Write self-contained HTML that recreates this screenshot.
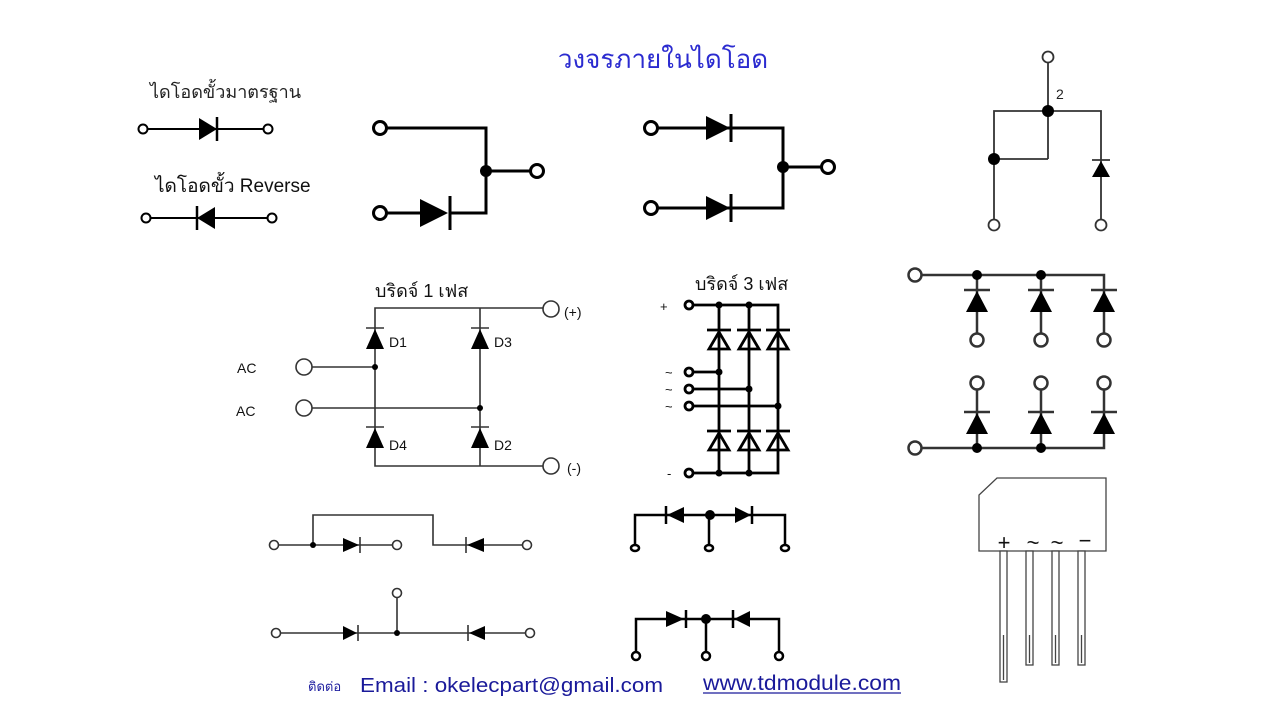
<!DOCTYPE html>
<html><head><meta charset="utf-8"><style>
html,body{margin:0;padding:0;background:#fff;width:1280px;height:720px;overflow:hidden}
svg{display:block}
text{font-family:"Liberation Sans","DejaVu Sans",sans-serif}
</style></head><body>
<svg width="1280" height="720" viewBox="0 0 1280 720" xmlns="http://www.w3.org/2000/svg">
<rect width="1280" height="720" fill="#fff"/>
<text x="663" y="68" font-size="26" fill="#2b2bd0" text-anchor="middle">วงจรภายในไดโอด</text>

<!-- standard diode -->
<text x="150" y="98" font-size="18" fill="#222">ไดโอดขั้วมาตรฐาน</text>
<g stroke="#000" stroke-width="2" fill="none">
<line x1="147" y1="129" x2="264" y2="129"/><circle cx="143" cy="129" r="4.5" fill="#fff"/><circle cx="268" cy="129" r="4.5" fill="#fff"/>
<line x1="217" y1="117" x2="217" y2="141" stroke-width="2.5"/>
</g>
<polygon points="199,118 199,140 217,129" fill="#000"/>
<text x="155" y="192" font-size="19" fill="#111">ไดโอดขั้ว Reverse</text>
<g stroke="#000" stroke-width="2" fill="none">
<line x1="150" y1="218" x2="268" y2="218"/><circle cx="146" cy="218" r="4.5" fill="#fff"/><circle cx="272" cy="218" r="4.5" fill="#fff"/>
<line x1="197" y1="206" x2="197" y2="230" stroke-width="2.5"/>
</g>
<polygon points="215,207 215,229 197,218" fill="#000"/>

<!-- diagram 2 -->
<g stroke="#000" stroke-width="3" fill="none">
<polyline points="387,128 486,128 486,213 450,213"/>
<line x1="387" y1="213" x2="420" y2="213"/>
<line x1="486" y1="171" x2="530" y2="171"/>
<line x1="450" y1="196" x2="450" y2="230"/>
<circle cx="380" cy="128" r="6.5" fill="#fff"/><circle cx="380" cy="213" r="6.5" fill="#fff"/><circle cx="537" cy="171" r="6.5" fill="#fff"/>
</g>
<polygon points="420,199 420,227 448,213" fill="#000"/><circle cx="486" cy="171" r="6" fill="#000"/>

<!-- diagram 3 -->
<g stroke="#000" stroke-width="3" fill="none">
<polyline points="658,128 783,128 783,208 658,208"/>
<line x1="783" y1="167" x2="821" y2="167"/>
<line x1="731" y1="114" x2="731" y2="142"/><line x1="731" y1="194" x2="731" y2="222"/>
<circle cx="651" cy="128" r="6.5" fill="#fff"/><circle cx="651" cy="208" r="6.5" fill="#fff"/><circle cx="828" cy="167" r="6.5" fill="#fff"/>
</g>
<polygon points="706,116 706,140 730,128" fill="#000"/><polygon points="706,196 706,220 730,208" fill="#000"/><circle cx="783" cy="167" r="6" fill="#000"/>

<!-- top right -->
<g stroke="#333" stroke-width="1.8" fill="none">
<line x1="1048" y1="63" x2="1048" y2="159"/>
<polyline points="994,219 994,111 1101,111 1101,219"/>
<polyline points="994,159 1048,159"/>
<line x1="1092" y1="160" x2="1110" y2="160"/>
<circle cx="1048" cy="57" r="5.5" fill="#fff"/><circle cx="994" cy="225" r="5.5" fill="#fff"/><circle cx="1101" cy="225" r="5.5" fill="#fff"/>
</g>
<polygon points="1101,161 1092,177 1110,177" fill="#000"/>
<circle cx="1048" cy="111" r="6" fill="#000"/><circle cx="994" cy="159" r="6" fill="#000"/>
<text x="1056" y="99" font-size="14" fill="#222">2</text>

<!-- 3-diode arrays -->
<g stroke="#333" stroke-width="2.5" fill="none">
<polyline points="922,275 1104,275 1104,333"/>
<line x1="977" y1="275" x2="977" y2="333"/><line x1="1041" y1="275" x2="1041" y2="333"/>
<line x1="964" y1="290" x2="990" y2="290"/><line x1="1028" y1="290" x2="1054" y2="290"/><line x1="1091" y1="290" x2="1117" y2="290"/>
<circle cx="915" cy="275" r="6.5" fill="#fff"/><circle cx="977" cy="340" r="6.5" fill="#fff"/><circle cx="1041" cy="340" r="6.5" fill="#fff"/><circle cx="1104" cy="340" r="6.5" fill="#fff"/>
<polyline points="922,448 1104,448 1104,390"/>
<line x1="977" y1="448" x2="977" y2="390"/><line x1="1041" y1="448" x2="1041" y2="390"/>
<line x1="964" y1="412" x2="990" y2="412"/><line x1="1028" y1="412" x2="1054" y2="412"/><line x1="1091" y1="412" x2="1117" y2="412"/>
<circle cx="915" cy="448" r="6.5" fill="#fff"/><circle cx="977" cy="383" r="6.5" fill="#fff"/><circle cx="1041" cy="383" r="6.5" fill="#fff"/><circle cx="1104" cy="383" r="6.5" fill="#fff"/>
</g>
<g fill="#000">
<polygon points="977,291 966,312 988,312"/><polygon points="1041,291 1030,312 1052,312"/><polygon points="1104,291 1093,312 1115,312"/>
<polygon points="977,413 966,434 988,434"/><polygon points="1041,413 1030,434 1052,434"/><polygon points="1104,413 1093,434 1115,434"/>
<circle cx="977" cy="275" r="5"/><circle cx="1041" cy="275" r="5"/><circle cx="977" cy="448" r="5"/><circle cx="1041" cy="448" r="5"/>
</g>

<!-- bridge package -->
<g stroke="#444" stroke-width="1.3" fill="#fff">
<polygon points="997,478 1106,478 1106,551 979,551 979,495"/>
<rect x="1000" y="551" width="7" height="131"/><rect x="1026" y="551" width="7" height="114"/><rect x="1052" y="551" width="7" height="114"/><rect x="1078" y="551" width="7" height="114"/>
<line x1="1003.5" y1="635" x2="1003.5" y2="680"/><line x1="1029.5" y1="635" x2="1029.5" y2="663"/><line x1="1055.5" y1="635" x2="1055.5" y2="663"/><line x1="1081.5" y1="635" x2="1081.5" y2="663"/>
</g>
<text x="1004" y="550" font-size="22" fill="#111" text-anchor="middle">+</text>
<text x="1033" y="550" font-size="22" fill="#111" text-anchor="middle">~</text>
<text x="1057" y="550" font-size="22" fill="#111" text-anchor="middle">~</text>
<text x="1085" y="548" font-size="22" fill="#111" text-anchor="middle">−</text>

<!-- 1-phase bridge -->
<text x="375" y="297" font-size="18" fill="#111">บริดจ์ 1 เฟส</text>
<g stroke="#333" stroke-width="1.6" fill="none">
<polyline points="543,308 375,308 375,466 543,466"/>
<line x1="480" y1="308" x2="480" y2="466"/>
<line x1="312" y1="367" x2="375" y2="367"/><line x1="312" y1="408" x2="480" y2="408"/>
<line x1="366" y1="328" x2="384" y2="328"/><line x1="471" y1="328" x2="489" y2="328"/>
<line x1="366" y1="427" x2="384" y2="427"/><line x1="471" y1="427" x2="489" y2="427"/>
<circle cx="551" cy="309" r="8" fill="#fff"/><circle cx="551" cy="466" r="8" fill="#fff"/>
<circle cx="304" cy="367" r="8" fill="#fff"/><circle cx="304" cy="408" r="8" fill="#fff"/>
</g>
<g fill="#000">
<polygon points="375,329 366,349 384,349"/><polygon points="480,329 471,349 489,349"/>
<polygon points="375,428 366,448 384,448"/><polygon points="480,428 471,448 489,448"/>
<circle cx="375" cy="367" r="3"/><circle cx="480" cy="408" r="3"/>
</g>
<g font-size="14" fill="#111">
<text x="389" y="347">D1</text><text x="494" y="347">D3</text><text x="389" y="450">D4</text><text x="494" y="450">D2</text>
<text x="237" y="373">AC</text><text x="236" y="416">AC</text><text x="564" y="317">(+)</text><text x="567" y="473">(-)</text>
</g>

<!-- 3-phase bridge -->
<text x="695" y="290" font-size="18" fill="#111">บริดจ์ 3 เฟส</text>
<g stroke="#000" stroke-width="2.8" fill="none">
<polyline points="693,305 778,305 778,473 693,473"/>
<line x1="719" y1="305" x2="719" y2="473"/><line x1="749" y1="305" x2="749" y2="473"/>
<line x1="693" y1="372" x2="719" y2="372"/><line x1="693" y1="389" x2="749" y2="389"/><line x1="693" y1="406" x2="778" y2="406"/>
<line x1="707" y1="330" x2="731" y2="330"/><line x1="737" y1="330" x2="761" y2="330"/><line x1="766" y1="330" x2="790" y2="330"/>
<line x1="707" y1="431" x2="731" y2="431"/><line x1="737" y1="431" x2="761" y2="431"/><line x1="766" y1="431" x2="790" y2="431"/>
<polygon points="719,332 709,349 729,349"/><polygon points="749,332 739,349 759,349"/><polygon points="778,332 768,349 788,349"/>
<polygon points="719,433 709,450 729,450"/><polygon points="749,433 739,450 759,450"/><polygon points="778,433 768,450 788,450"/>
<circle cx="689" cy="305" r="4" fill="#fff"/><circle cx="689" cy="372" r="4" fill="#fff"/><circle cx="689" cy="389" r="4" fill="#fff"/><circle cx="689" cy="406" r="4" fill="#fff"/><circle cx="689" cy="473" r="4" fill="#fff"/>
</g>
<g fill="#000">
<circle cx="719" cy="305" r="3.5"/><circle cx="749" cy="305" r="3.5"/><circle cx="719" cy="372" r="3.5"/><circle cx="749" cy="389" r="3.5"/><circle cx="778" cy="406" r="3.5"/><circle cx="719" cy="473" r="3.5"/><circle cx="749" cy="473" r="3.5"/>
</g>
<g font-size="13" fill="#111"><text x="660" y="311">+</text><text x="665" y="377">~</text><text x="665" y="394">~</text><text x="665" y="411">~</text><text x="667" y="478">-</text></g>

<!-- bottom left 1 -->
<g stroke="#333" stroke-width="1.6" fill="none">
<line x1="279" y1="545" x2="392" y2="545"/>
<polyline points="313,545 313,515 433,515 433,545 522,545"/>
<line x1="360" y1="537" x2="360" y2="553"/><line x1="466" y1="537" x2="466" y2="553"/>
<circle cx="274" cy="545" r="4.5" fill="#fff"/><circle cx="397" cy="545" r="4.5" fill="#fff"/><circle cx="527" cy="545" r="4.5" fill="#fff"/>
</g>
<polygon points="343,538 343,552 359,545" fill="#000"/><polygon points="484,538 484,552 467,545" fill="#000"/><circle cx="313" cy="545" r="3" fill="#000"/>
<!-- bottom left 2 -->
<g stroke="#333" stroke-width="1.6" fill="none">
<line x1="281" y1="633" x2="525" y2="633"/><line x1="397" y1="633" x2="397" y2="598"/>
<line x1="358" y1="625" x2="358" y2="641"/><line x1="468" y1="625" x2="468" y2="641"/>
<circle cx="276" cy="633" r="4.5" fill="#fff"/><circle cx="397" cy="593" r="4.5" fill="#fff"/><circle cx="530" cy="633" r="4.5" fill="#fff"/>
</g>
<polygon points="343,626 343,640 357,633" fill="#000"/><polygon points="485,626 485,640 469,633" fill="#000"/><circle cx="397" cy="633" r="3" fill="#000"/>

<!-- bottom middle 1 -->
<g stroke="#000" stroke-width="2.5" fill="none">
<polyline points="635,545 635,515 785,515 785,545"/><line x1="709" y1="515" x2="709" y2="545"/>
<line x1="666" y1="506" x2="666" y2="524"/><line x1="752" y1="506" x2="752" y2="524"/>
<ellipse cx="635" cy="548" rx="4" ry="3" fill="#fff"/><ellipse cx="709" cy="548" rx="4" ry="3" fill="#fff"/><ellipse cx="785" cy="548" rx="4" ry="3" fill="#fff"/>
</g>
<polygon points="684,507 684,523 667,515" fill="#000"/><polygon points="735,507 735,523 751,515" fill="#000"/><circle cx="710" cy="515" r="5" fill="#000"/>
<!-- bottom middle 2 -->
<g stroke="#000" stroke-width="2.5" fill="none">
<polyline points="636,652 636,619 779,619 779,652"/><line x1="706" y1="619" x2="706" y2="652"/>
<line x1="686" y1="610" x2="686" y2="628"/><line x1="733" y1="610" x2="733" y2="628"/>
<circle cx="636" cy="656" r="4" fill="#fff"/><circle cx="706" cy="656" r="4" fill="#fff"/><circle cx="779" cy="656" r="4" fill="#fff"/>
</g>
<polygon points="666,611 666,627 684,619" fill="#000"/><polygon points="750,611 750,627 734,619" fill="#000"/><circle cx="706" cy="619" r="5" fill="#000"/>

<!-- footer -->
<text x="308" y="691" font-size="13" fill="#2020a0">ติดต่อ</text>
<text x="360" y="692" font-size="20" fill="#1a1a9a" textLength="303" lengthAdjust="spacingAndGlyphs">Email :  okelecpart@gmail.com</text>
<text x="703" y="690" font-size="21" fill="#1a1a9a" textLength="198" lengthAdjust="spacingAndGlyphs">www.tdmodule.com</text>
<line x1="703" y1="693" x2="901" y2="693" stroke="#1a1a9a" stroke-width="1.3"/>
</svg>
</body></html>
